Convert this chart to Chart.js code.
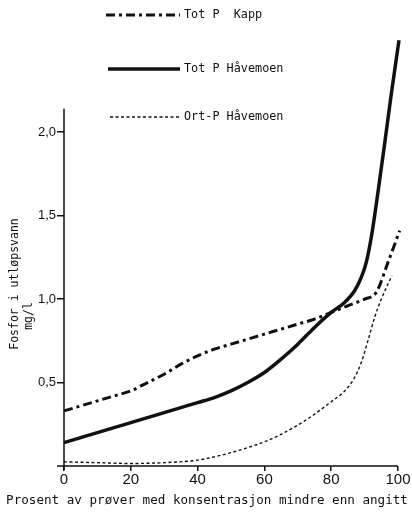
<!DOCTYPE html>
<html><head><meta charset="utf-8">
<script src="https://cdn.jsdelivr.net/npm/chart.js@4"></script>
<style>html,body{margin:0;padding:0;background:#fff}canvas{display:block}</style>
</head><body>
<canvas id="c" width="412" height="515"></canvas>
<script>
// Data
const seriesNames = ['Tot P  Kapp', 'Tot P Håvemoen', 'Ort-P Håvemoen'];
const kappX = [0,5,10,15,20,25,30,35,40,45,50,55,60,65,70,75,80,85,90,93.5,97,100.5];
const kappY = [0.33,0.36,0.39,0.42,0.45,0.50,0.55,0.61,0.66,0.70,0.73,0.76,0.79,0.82,0.85,0.88,0.92,0.96,1.00,1.04,1.22,1.41];
const totHX = [0,5,10,15,20,25,30,35,40,45,50,55,60,65,70,75,80,84,87,89,90.5,92,94,96,98,100.3];
const totHY = [0.14,0.17,0.20,0.23,0.26,0.29,0.32,0.35,0.38,0.41,0.45,0.50,0.56,0.64,0.73,0.83,0.92,0.98,1.05,1.13,1.22,1.37,1.64,1.93,2.23,2.55];
const ortX = [0,10,20,30,40,45,50,55,60,65,70,75,80,83,85,87,89,91,93,95,97,98.2];
const ortY = [0.025,0.02,0.015,0.02,0.035,0.055,0.08,0.11,0.145,0.19,0.245,0.31,0.385,0.43,0.47,0.53,0.62,0.75,0.89,1.00,1.09,1.14];
const xTicks = [0,20,40,60,80,100];
const yTicks = [0.5,1.0,1.5,2.0];
const xTitle = 'Prosent av prøver med konsentrasjon mindre enn angitt';
const yTitle = ['Fosfor i utløpsvann', 'mg/l'];

const pts = (xs, ys) => xs.map((x, i) => ({x, y: ys[i]}));
const INK = '#111';
const styles = [
  {w: 3, dash: [9,4,3,4]},
  {w: 3.5, dash: []},
  {w: 1.4, dash: [3,2.5]}
];

const decor = {
  id: 'decor',
  afterDraw(chart) {
    const ctx = chart.ctx, xs = chart.scales.x, ys = chart.scales.y;
    ctx.save();
    ctx.strokeStyle = INK; ctx.fillStyle = INK;
    // axes
    ctx.lineWidth = 1.5; ctx.setLineDash([]);
    const x0 = xs.getPixelForValue(0), y0 = ys.getPixelForValue(0);
    ctx.beginPath();
    ctx.moveTo(x0, y0 + 4); ctx.lineTo(x0, ys.getPixelForValue(2.14));
    ctx.moveTo(x0 - 7, y0); ctx.lineTo(xs.getPixelForValue(100), y0);
    ctx.stroke();
    // legend
    const leg = [[106,15],[108,69],[110,117]];
    ctx.font = '11.8px "DejaVu Sans Mono", monospace';
    ctx.textBaseline = 'middle'; ctx.textAlign = 'left';
    leg.forEach((p, i) => {
      ctx.lineWidth = styles[i].w; ctx.setLineDash(styles[i].dash);
      ctx.beginPath(); ctx.moveTo(p[0], p[1]); ctx.lineTo(180, p[1]); ctx.stroke();
      ctx.setLineDash([]);
      ctx.fillText(seriesNames[i], 184, p[1]);
    });
    // y title
    ctx.font = '11.5px "DejaVu Sans Mono", monospace';
    ctx.textAlign = 'center';
    ctx.save(); ctx.translate(15, 284); ctx.rotate(-Math.PI/2); ctx.fillText(yTitle[0], 0, 0); ctx.restore();
    ctx.save(); ctx.translate(29, 316); ctx.rotate(-Math.PI/2); ctx.fillText(yTitle[1], 0, 0); ctx.restore();
    // x title
    ctx.font = '12.6px "DejaVu Sans Mono", monospace';
    ctx.fillText(xTitle, 207, 501);
    ctx.restore();
  }
};

new Chart(document.getElementById('c'), {
  type: 'line',
  data: {
    datasets: [
      {label: seriesNames[0], data: pts(kappX, kappY)},
      {label: seriesNames[1], data: pts(totHX, totHY)},
      {label: seriesNames[2], data: pts(ortX, ortY)}
    ].map((d, i) => Object.assign(d, {
      borderColor: INK, borderWidth: styles[i].w, borderDash: styles[i].dash,
      pointRadius: 0, cubicInterpolationMode: 'monotone', fill: false, clip: false,
      borderCapStyle: 'butt'
    }))
  },
  options: {
    responsive: false, animation: false, devicePixelRatio: 1,
    layout: {padding: {top: 32, right: 14, left: 0, bottom: 0}},
    plugins: {legend: {display: false}, tooltip: {enabled: false}},
    scales: {
      x: {
        type: 'linear', min: 0, max: 100,
        afterBuildTicks: s => { s.ticks = xTicks.map(v => ({value: v})); },
        afterFit: s => { s.height = 49; },
        border: {display: false},
        grid: {drawOnChartArea: false, drawTicks: true, tickLength: 5, tickColor: INK, lineWidth: 1.5},
        ticks: {color: INK, padding: 0, font: {family: '"Liberation Sans", Arial', size: 15}}
      },
      y: {
        type: 'linear', min: 0, max: 2.6,
        afterBuildTicks: s => { s.ticks = yTicks.map(v => ({value: v})); },
        afterFit: s => { s.width = 64; },
        border: {display: false},
        grid: {drawOnChartArea: false, drawTicks: true, tickLength: 7, tickColor: INK, lineWidth: 1.5},
        ticks: {color: INK, padding: 1, font: {family: '"Liberation Sans", Arial', size: 13},
          callback: v => v.toFixed(1).replace('.', ',')}
      }
    }
  },
  plugins: [decor]
});
</script>
</body></html>
